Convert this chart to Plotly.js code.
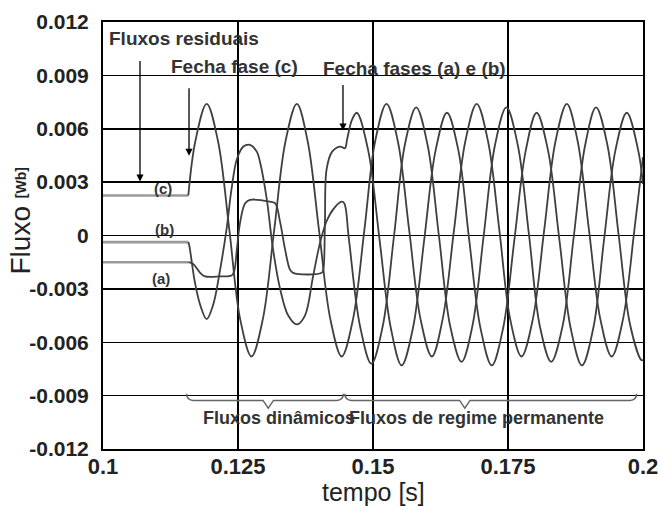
<!DOCTYPE html>
<html>
<head>
<meta charset="utf-8">
<script src="https://cdn.plot.ly/plotly-3.0.1.min.js"></script>
<style>html,body{margin:0;padding:0;background:#fff;}#chart{width:660px;height:506px;}</style>
</head>
<body>
<div id="chart"></div>
<script>
// ---- axes ----
const xTickVals = [0.1, 0.125, 0.15, 0.175, 0.2];
const xTickText = ["0.1", "0.125", "0.15", "0.175", "0.2"];
const yTickVals = [0.012, 0.009, 0.006, 0.003, 0, -0.003, -0.006, -0.009, -0.012];
const yTickText = ["0.012", "0.009", "0.006", "0.003", "0", "-0.003", "-0.006", "-0.009", "-0.012"];

// ---- residual fluxes (before energisation) ----
const tResidual = [0.1, 0.1158];
const resA = [-0.0015, -0.0015];
const resB = [-0.00037, -0.00037];
const resC = [0.00225, 0.00225];

// ---- phase (c): closes at 0.1158 s ----
const tC = [0.1158, 0.1171, 0.1192, 0.1213, 0.1234, 0.1254, 0.1275, 0.1296, 0.1317, 0.1338,
  0.1359, 0.1379, 0.1400, 0.1421, 0.1442, 0.1463, 0.1484, 0.1504, 0.1525, 0.1546,
  0.1567, 0.1588, 0.1609, 0.1629, 0.1650, 0.1671, 0.1692, 0.1713, 0.1734, 0.1754,
  0.1775, 0.1796, 0.1817, 0.1838, 0.1859, 0.1879, 0.1900, 0.1921, 0.1942, 0.1963,
  0.1984, 0.2000];
const fluxC = [0.00225, 0.0053, 0.0074, 0.0053, 0.0003, -0.0047, -0.0068, -0.0047, 0.0003, 0.0053,
  0.0074, 0.0053, 0.0003, -0.0047, -0.0068, -0.0047, 0.0003, 0.0053, 0.0074, 0.0053,
  0.0003, -0.0047, -0.0068, -0.0047, 0.0003, 0.0053, 0.0074, 0.0053, 0.0003, -0.0047,
  -0.0068, -0.0047, 0.0003, 0.0053, 0.0074, 0.0053, 0.0003, -0.0047, -0.0068, -0.0047,
  0.0003, 0.0044];

// ---- phase (b): dynamic flux, then closes at 0.1445 s ----
const tB = [0.1158, 0.1160, 0.1170, 0.1180, 0.1192, 0.1204, 0.1217, 0.1229, 0.1238, 0.1248,
  0.1260, 0.1272, 0.1285, 0.1291, 0.1303, 0.1315, 0.1328, 0.1343, 0.1359, 0.1374,
  0.1389, 0.1402, 0.1414, 0.1427, 0.1442, 0.1447, 0.1455, 0.1476, 0.1497, 0.1518,
  0.1539, 0.1559, 0.1580, 0.1601, 0.1622, 0.1643, 0.1664, 0.1684, 0.1705, 0.1726,
  0.1747, 0.1768, 0.1789, 0.1809, 0.1830, 0.1851, 0.1872, 0.1893, 0.1913, 0.1934,
  0.1955, 0.1976, 0.1997, 0.2000];
const fluxB = [-0.00037, -0.0006, -0.0026, -0.0039, -0.0047, -0.0039, -0.0019, 0.0004, 0.0026, 0.0043,
  0.0050, 0.0051, 0.0047, 0.0041, 0.0021, -0.0008, -0.0030, -0.0045, -0.0050, -0.0045,
  -0.0023, -0.0004, 0.0008, 0.0015, 0.0019, 0.0018, -0.0001, -0.0051, -0.0072, -0.0051,
  0.0000, 0.0051, 0.0072, 0.0051, 0.0000, -0.0051, -0.0071, -0.0051, 0.0000, 0.0051,
  0.0072, 0.0051, 0.0000, -0.0051, -0.0071, -0.0051, 0.0000, 0.0051, 0.0072, 0.0051,
  0.0000, -0.0050, -0.0070, -0.0070];

// ---- phase (a): dynamic flux, then closes at 0.1445 s ----
const tA = [0.1158, 0.1167, 0.1180, 0.1189, 0.1217, 0.1238, 0.1243, 0.1248, 0.1254, 0.1263,
  0.1272, 0.1309, 0.1319, 0.1328, 0.1337, 0.1346, 0.1352, 0.1405, 0.1408, 0.1411,
  0.1414, 0.1424, 0.1439, 0.1448, 0.1452, 0.1461, 0.1470, 0.1491, 0.1512, 0.1533,
  0.1553, 0.1574, 0.1595, 0.1616, 0.1637, 0.1658, 0.1678, 0.1699, 0.1720, 0.1741,
  0.1762, 0.1783, 0.1803, 0.1824, 0.1845, 0.1866, 0.1887, 0.1908, 0.1928, 0.1949,
  0.1970, 0.1991, 0.2000];
const fluxA = [-0.0015, -0.0016, -0.0021, -0.0023, -0.0023, -0.00225, -0.0020, -0.00075, 0.00075, 0.0018,
  0.0020, 0.0019, 0.0018, 0.00075, -0.00075, -0.0019, -0.0021, -0.0021, -0.0019, 0.00075,
  0.0037, 0.0047, 0.0050, 0.0049, 0.0054, 0.0065, 0.0069, 0.0048, -0.0002, -0.0052,
  -0.0073, -0.0052, -0.0002, 0.0048, 0.0069, 0.0048, -0.0002, -0.0052, -0.0073, -0.0052,
  -0.0002, 0.0048, 0.0069, 0.0048, -0.0002, -0.0052, -0.0073, -0.0052, -0.0002, 0.0048,
  0.0069, 0.0048, 0.0029];

// ---- regions marked by braces ----
const dynamicSpan = [0.1155, 0.1445];
const dynamicTip = 0.1306;
const steadySpan = [0.1448, 0.1988];
const steadyTip = 0.1670;

const curveColor = '#3f3f3f';
const resColor = '#9a9a9a';
function resTrace(y) {
  return {x: tResidual, y: y, mode: 'lines', line: {color: resColor, width: 2.6}, hoverinfo: 'skip', showlegend: false};
}
function curve(x, y) {
  return {x: x, y: y, mode: 'lines', line: {color: curveColor, width: 1.8, shape: 'spline', smoothing: 1}, showlegend: false};
}
const data = [resTrace(resA), resTrace(resB), resTrace(resC), curve(tA, fluxA), curve(tB, fluxB), curve(tC, fluxC)];

function bracePath(span, tip) {
  const yEnd = -0.0089, yBody = -0.00927, yTip = -0.0097;
  const r = 0.0012, w = 0.00097;
  return 'M' + span[0] + ',' + yEnd +
    ' Q' + span[0] + ',' + yBody + ' ' + (span[0] + r) + ',' + yBody +
    ' L' + (tip - w) + ',' + yBody +
    ' L' + tip + ',' + yTip +
    ' L' + (tip + w) + ',' + yBody +
    ' L' + (span[1] - r) + ',' + yBody +
    ' Q' + span[1] + ',' + yBody + ' ' + span[1] + ',' + yEnd;
}

const txtFont = {family: 'Liberation Sans, Arial, sans-serif', size: 19, color: '#333', weight: 'bold'};
const lblFont = {family: 'Liberation Sans, Arial, sans-serif', size: 15, color: '#333', weight: 'bold'};
const botFont = {family: 'Liberation Sans, Arial, sans-serif', size: 18, color: '#333', weight: 'bold'};

function arrow(x, y, ay) {
  return {x: x, y: y, xref: 'x', yref: 'y', text: '', showarrow: true, ax: 0, ay: ay,
    arrowhead: 2, arrowsize: 1.1, arrowwidth: 1.3, arrowcolor: '#000'};
}
function label(text, x, y, font, anchor) {
  return {x: x, y: y, xref: 'x', yref: 'y', text: text, showarrow: false, font: font,
    xanchor: anchor || 'left', yanchor: 'middle', borderpad: 0};
}

const layout = {
  width: 660, height: 506,
  margin: {l: 103, r: 17, t: 22, b: 57},
  paper_bgcolor: '#fff', plot_bgcolor: '#fff',
  xaxis: {
    range: [0.1, 0.2], tickvals: xTickVals, ticktext: xTickText,
    showgrid: true, gridcolor: '#000', gridwidth: 1.5,
    showline: true, mirror: true, linecolor: '#000', linewidth: 2,
    zeroline: false, ticks: '', fixedrange: true, ticklabelstandoff: -3,
    tickfont: {family: 'Liberation Sans, Arial, sans-serif', size: 22, color: '#222', weight: 'bold'}
  },
  yaxis: {
    range: [-0.012, 0.012], tickvals: yTickVals, ticktext: yTickText,
    showgrid: true, gridcolor: '#000', gridwidth: 1.5,
    showline: true, mirror: true, linecolor: '#000', linewidth: 2,
    zeroline: false, ticks: '', fixedrange: true, ticklabelstandoff: 8,
    tickfont: {family: 'Liberation Sans, Arial, sans-serif', size: 21, color: '#222', weight: 'bold'}
  },
  shapes: [
    {type: 'path', xref: 'x', yref: 'y', path: bracePath(dynamicSpan, dynamicTip), line: {color: '#666', width: 1.5}},
    {type: 'path', xref: 'x', yref: 'y', path: bracePath(steadySpan, steadyTip), line: {color: '#666', width: 1.5}}
  ],
  annotations: [
    label('Fluxos residuais', 0.1009, 0.01105, txtFont),
    label('Fecha fase (c)', 0.1124, 0.00948, txtFont),
    label('Fecha fases (a) e (b)', 0.1405, 0.00937, txtFont),
    label('(c)', 0.1111, 0.00262, lblFont, 'center'),
    label('(b)', 0.1113, 0.00032, lblFont, 'center'),
    label('(a)', 0.1107, -0.00243, lblFont, 'center'),
    label('Fluxos dinâmicos', 0.1183, -0.01024, botFont),
    label('Fluxos de regime permanente', 0.1454, -0.01024, botFont),
    arrow(0.10685, 0.00303, -122),
    arrow(0.11593, 0.00448, -69),
    arrow(0.14444, 0.0059, -47),
    {xref: 'paper', yref: 'paper', x: 0, y: 0.5, xshift: -83, yshift: 14, textangle: -90,
      showarrow: false, xanchor: 'center', yanchor: 'middle',
      text: 'Fluxo <span style="font-size:14px;font-weight:bold;baseline-shift:4px">[Wb]</span>',
      font: {family: 'Liberation Sans, Arial, sans-serif', size: 28, color: '#222'}},
    {xref: 'paper', yref: 'paper', x: 0.5, y: 0, yshift: -43, showarrow: false,
      xanchor: 'center', yanchor: 'middle', text: 'tempo [s]',
      font: {family: 'Liberation Sans, Arial, sans-serif', size: 25, color: '#222'}}
  ]
};

Plotly.newPlot('chart', data, layout, {displayModeBar: false, staticPlot: true});
</script>
</body>
</html>
